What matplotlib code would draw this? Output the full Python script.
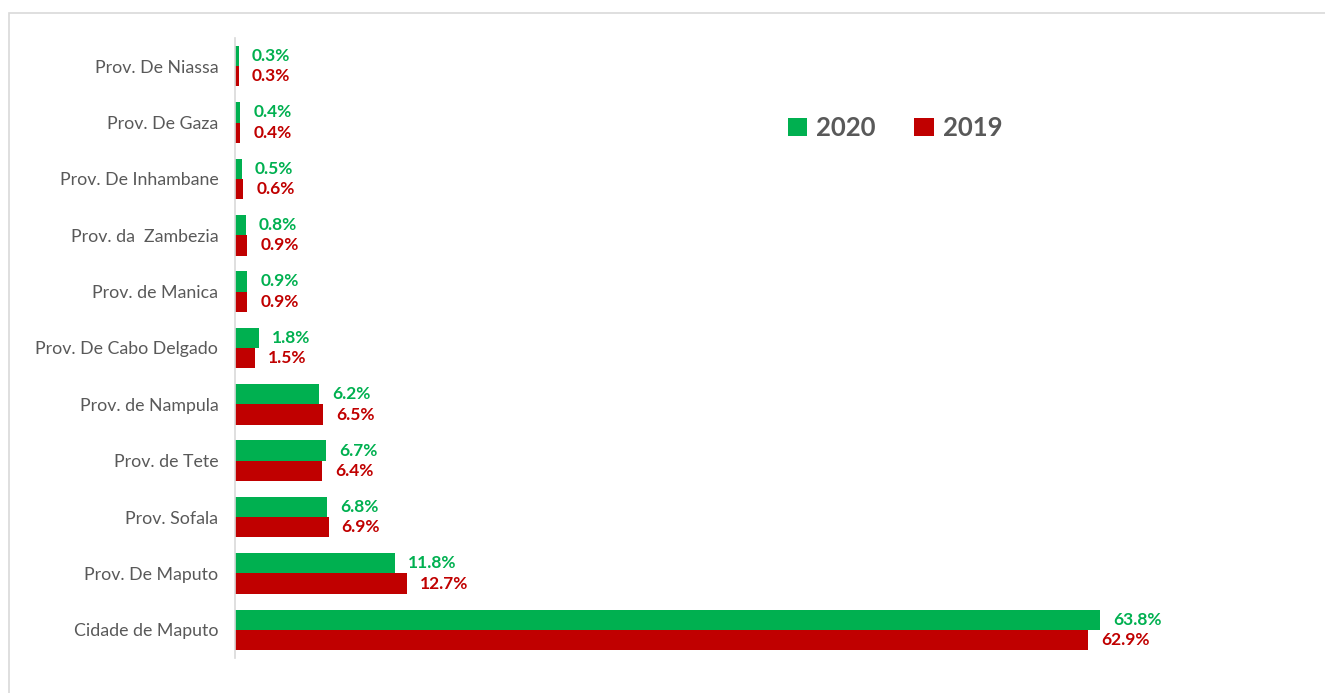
import matplotlib
matplotlib.use("Agg")
import matplotlib.pyplot as plt
from matplotlib.patches import Rectangle
import numpy as np

plt.rcParams['font.family'] = ['Lato', 'DejaVu Sans']

categories = ["Prov. De Niassa", "Prov. De Gaza", "Prov. De Inhambane", "Prov. da  Zambezia",
              "Prov. de Manica", "Prov. De Cabo Delgado", "Prov. de Nampula", "Prov. de Tete",
              "Prov. Sofala", "Prov. De Maputo", "Cidade de Maputo"]
values_2020 = [0.3, 0.4, 0.5, 0.8, 0.9, 1.8, 6.2, 6.7, 6.8, 11.8, 63.8]
values_2019 = [0.3, 0.4, 0.6, 0.9, 0.9, 1.5, 6.5, 6.4, 6.9, 12.7, 62.9]
series_names = ["2020", "2019"]

GREEN = "#00B050"
RED = "#C00000"
GRAY = "#595959"

W, H = 1325, 693
fig = plt.figure(figsize=(W / 100, H / 100), dpi=100)

# outer light frame (left/top visible)
fig.patches.append(Rectangle((9 / W, -0.1), 1.2, (H - 13) / H + 0.1, transform=fig.transFigure,
                             fill=False, edgecolor="#D9D9D9", linewidth=1.2))

ax_left, ax_right = 235, 1300
ax_top, ax_bot = 38, 658
ax = fig.add_axes([ax_left / W, 1 - ax_bot / H, (ax_right - ax_left) / W, (ax_bot - ax_top) / H])

px_per_unit = (1100 - 235) / 63.8
ax.set_xlim(0, (ax_right - ax_left) / px_per_unit)
n = len(categories)
ax.set_ylim(n - 0.5, -0.5)

y = np.arange(n)
h = 0.36
ax.barh(y - h / 2, values_2020, height=h, color=GREEN, label=series_names[0])
ax.barh(y + h / 2, values_2019, height=h, color=RED, label=series_names[1])

off = 13 / px_per_unit
for i in range(n):
    ax.text(values_2020[i] + off, y[i] - h / 2, f"{values_2020[i]:.1f}%", color=GREEN,
            fontsize=12.5, fontweight="bold", va="center", ha="left")
    ax.text(values_2019[i] + off, y[i] + h / 2, f"{values_2019[i]:.1f}%", color=RED,
            fontsize=12.5, fontweight="bold", va="center", ha="left")

ax.set_yticks(y)
ax.set_yticklabels(categories, fontsize=12.8, color=GRAY)
ax.tick_params(axis="y", length=0, pad=12)
ax.set_xticks([])
for s in ["top", "right", "bottom"]:
    ax.spines[s].set_visible(False)
ax.spines["left"].set_color("#D9D9D9")
ax.spines["left"].set_linewidth(1.2)

leg = ax.legend(loc="upper left", bbox_to_anchor=((788 - ax_left) / (ax_right - ax_left), 1 - (116 - ax_top) / (ax_bot - ax_top)),
                ncol=2, frameon=False, prop={"size": 18.5, "weight": "bold"},
                handlelength=0.75, handleheight=0.75, handletextpad=0.35, columnspacing=1.5,
                borderaxespad=0, borderpad=0)
for t in leg.get_texts():
    t.set_color(GRAY)

fig.savefig("out.png", dpi=100)
